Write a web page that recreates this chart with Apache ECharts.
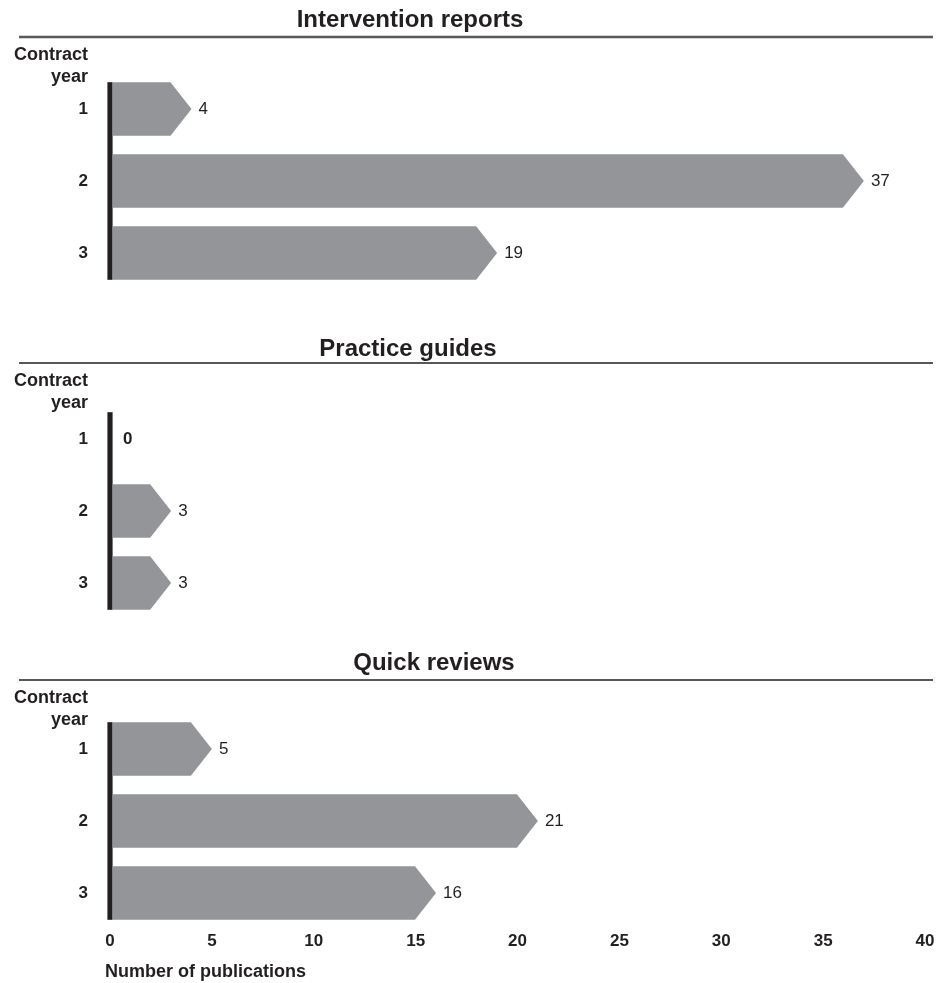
<!DOCTYPE html>
<html>
<head>
<meta charset="utf-8">
<script src="https://cdn.jsdelivr.net/npm/echarts@6/dist/echarts.min.js"></script>
<style>
html,body{margin:0;padding:0;background:#fff;}
#chart{width:951px;height:983px;}
</style>
</head>
<body>
<div id="chart"></div>
<script>
// ---- data ----
const contractYears = ['1', '2', '3'];
const panelTitles = ['Intervention reports', 'Practice guides', 'Quick reviews'];
const interventionReports = [4, 37, 19];
const practiceGuides = [0, 3, 3];
const quickReviews = [5, 21, 16];
const xMin = 0, xMax = 40, xInterval = 5;
const yAxisTitle = 'Contract\nyear';
const xAxisTitle = 'Number of publications';

// ---- style ----
const FONT = '"Liberation Sans", Arial, Helvetica, sans-serif';
const INK = '#231f20';
const BAR = '#939598';
const panelTops = [73, 403, 713];
const panelHeight = 216;
const titleY = [20, 349, 663];
const titleX = [410, 408, 434];
const ruleY = [37, 363, 680];
const ruleColor = ['#58595b', '#231f20', '#231f20'];
const ruleWidth = [2.5, 1.6, 1.6];

const seriesValues = [interventionReports, practiceGuides, quickReviews];

function renderArrow(params, api) {
  const i = api.value(1);
  const v = api.value(0);
  const n = params.dataInsideLength;
  const band = api.size([0, 1])[1];
  const barH = band * 0.745;
  const p0 = api.coord([0, i]);
  const p1 = api.coord([v, i]);
  const yc = p0[1];
  const yTop = yc - barH / 2, yBot = yc + barH / 2;
  const children = [];
  // axis line segment
  const segTop = (i === 0) ? yTop : yc - band / 2;
  const segBot = (i === n - 1) ? yBot : yc + band / 2;
  children.push({
    type: 'rect',
    shape: { x: p0[0] - 2.6, y: segTop, width: 5.2, height: segBot - segTop },
    style: { fill: INK }
  });
  const x0 = p0[0] + 2.6;
  const tip = 21;
  if (v > 0) {
    children.push({
      type: 'polygon',
      shape: { points: [[x0, yTop], [p1[0] - tip, yTop], [p1[0], yc], [p1[0] - tip, yBot], [x0, yBot]] },
      style: { fill: BAR }
    });
  }
  children.push({
    type: 'text',
    x: p1[0] + (v > 0 ? 7 : 13),
    y: yc,
    style: {
      text: String(v),
      fill: INK,
      font: (v > 0 ? 'normal ' : 'bold ') + '17px ' + FONT,
      align: 'left',
      verticalAlign: 'middle',
      textAlign: 'left',
      textVerticalAlign: 'middle'
    }
  });
  return { type: 'group', children: children };
}

const grids = [], xAxes = [], yAxes = [], series = [], graphics = [];
for (let k = 0; k < 3; k++) {
  grids.push({ left: 110, right: 26, top: panelTops[k], height: panelHeight, containLabel: false });
  xAxes.push({
    type: 'value', gridIndex: k, min: xMin, max: xMax, interval: xInterval,
    axisLine: { show: false }, axisTick: { show: false }, splitLine: { show: false },
    axisLabel: { show: k === 2, margin: 4, color: INK, fontWeight: 'bold', fontSize: 17, fontFamily: FONT }
  });
  yAxes.push({
    type: 'category', gridIndex: k, data: contractYears, inverse: true,
    axisLine: { show: false }, axisTick: { show: false }, splitLine: { show: false },
    axisLabel: { margin: 22, color: INK, fontWeight: 'bold', fontSize: 17, fontFamily: FONT }
  });
  series.push({
    type: 'custom', xAxisIndex: k, yAxisIndex: k,
    renderItem: renderArrow,
    encode: { x: 0, y: 1 },
    data: seriesValues[k].map((v, i) => [v, i]),
    silent: true, clip: false
  });
  graphics.push({
    type: 'text', x: titleX[k], y: titleY[k],
    style: { text: panelTitles[k], fill: INK, font: 'bold 24px ' + FONT,
      align: 'center', verticalAlign: 'middle', textAlign: 'center', textVerticalAlign: 'middle' }
  });
  graphics.push({
    type: 'line', shape: { x1: 19, y1: ruleY[k], x2: 933, y2: ruleY[k] },
    style: { stroke: ruleColor[k], lineWidth: ruleWidth[k] }
  });
  graphics.push({
    type: 'text', x: 88, y: ruleY[k] + 29,
    style: { text: yAxisTitle, fill: INK, font: 'bold 18px ' + FONT, lineHeight: 22,
      align: 'right', verticalAlign: 'middle', textAlign: 'right', textVerticalAlign: 'middle' }
  });
}
graphics.push({
  type: 'text', x: 105, y: 972,
  style: { text: xAxisTitle, fill: INK, font: 'bold 18px ' + FONT,
    align: 'left', verticalAlign: 'middle', textAlign: 'left', textVerticalAlign: 'middle' }
});

const chart = echarts.init(document.getElementById('chart'), null, { renderer: 'canvas' });
chart.setOption({
  animation: false,
  backgroundColor: '#ffffff',
  grid: grids,
  xAxis: xAxes,
  yAxis: yAxes,
  series: series,
  graphic: graphics
});
</script>
</body>
</html>
